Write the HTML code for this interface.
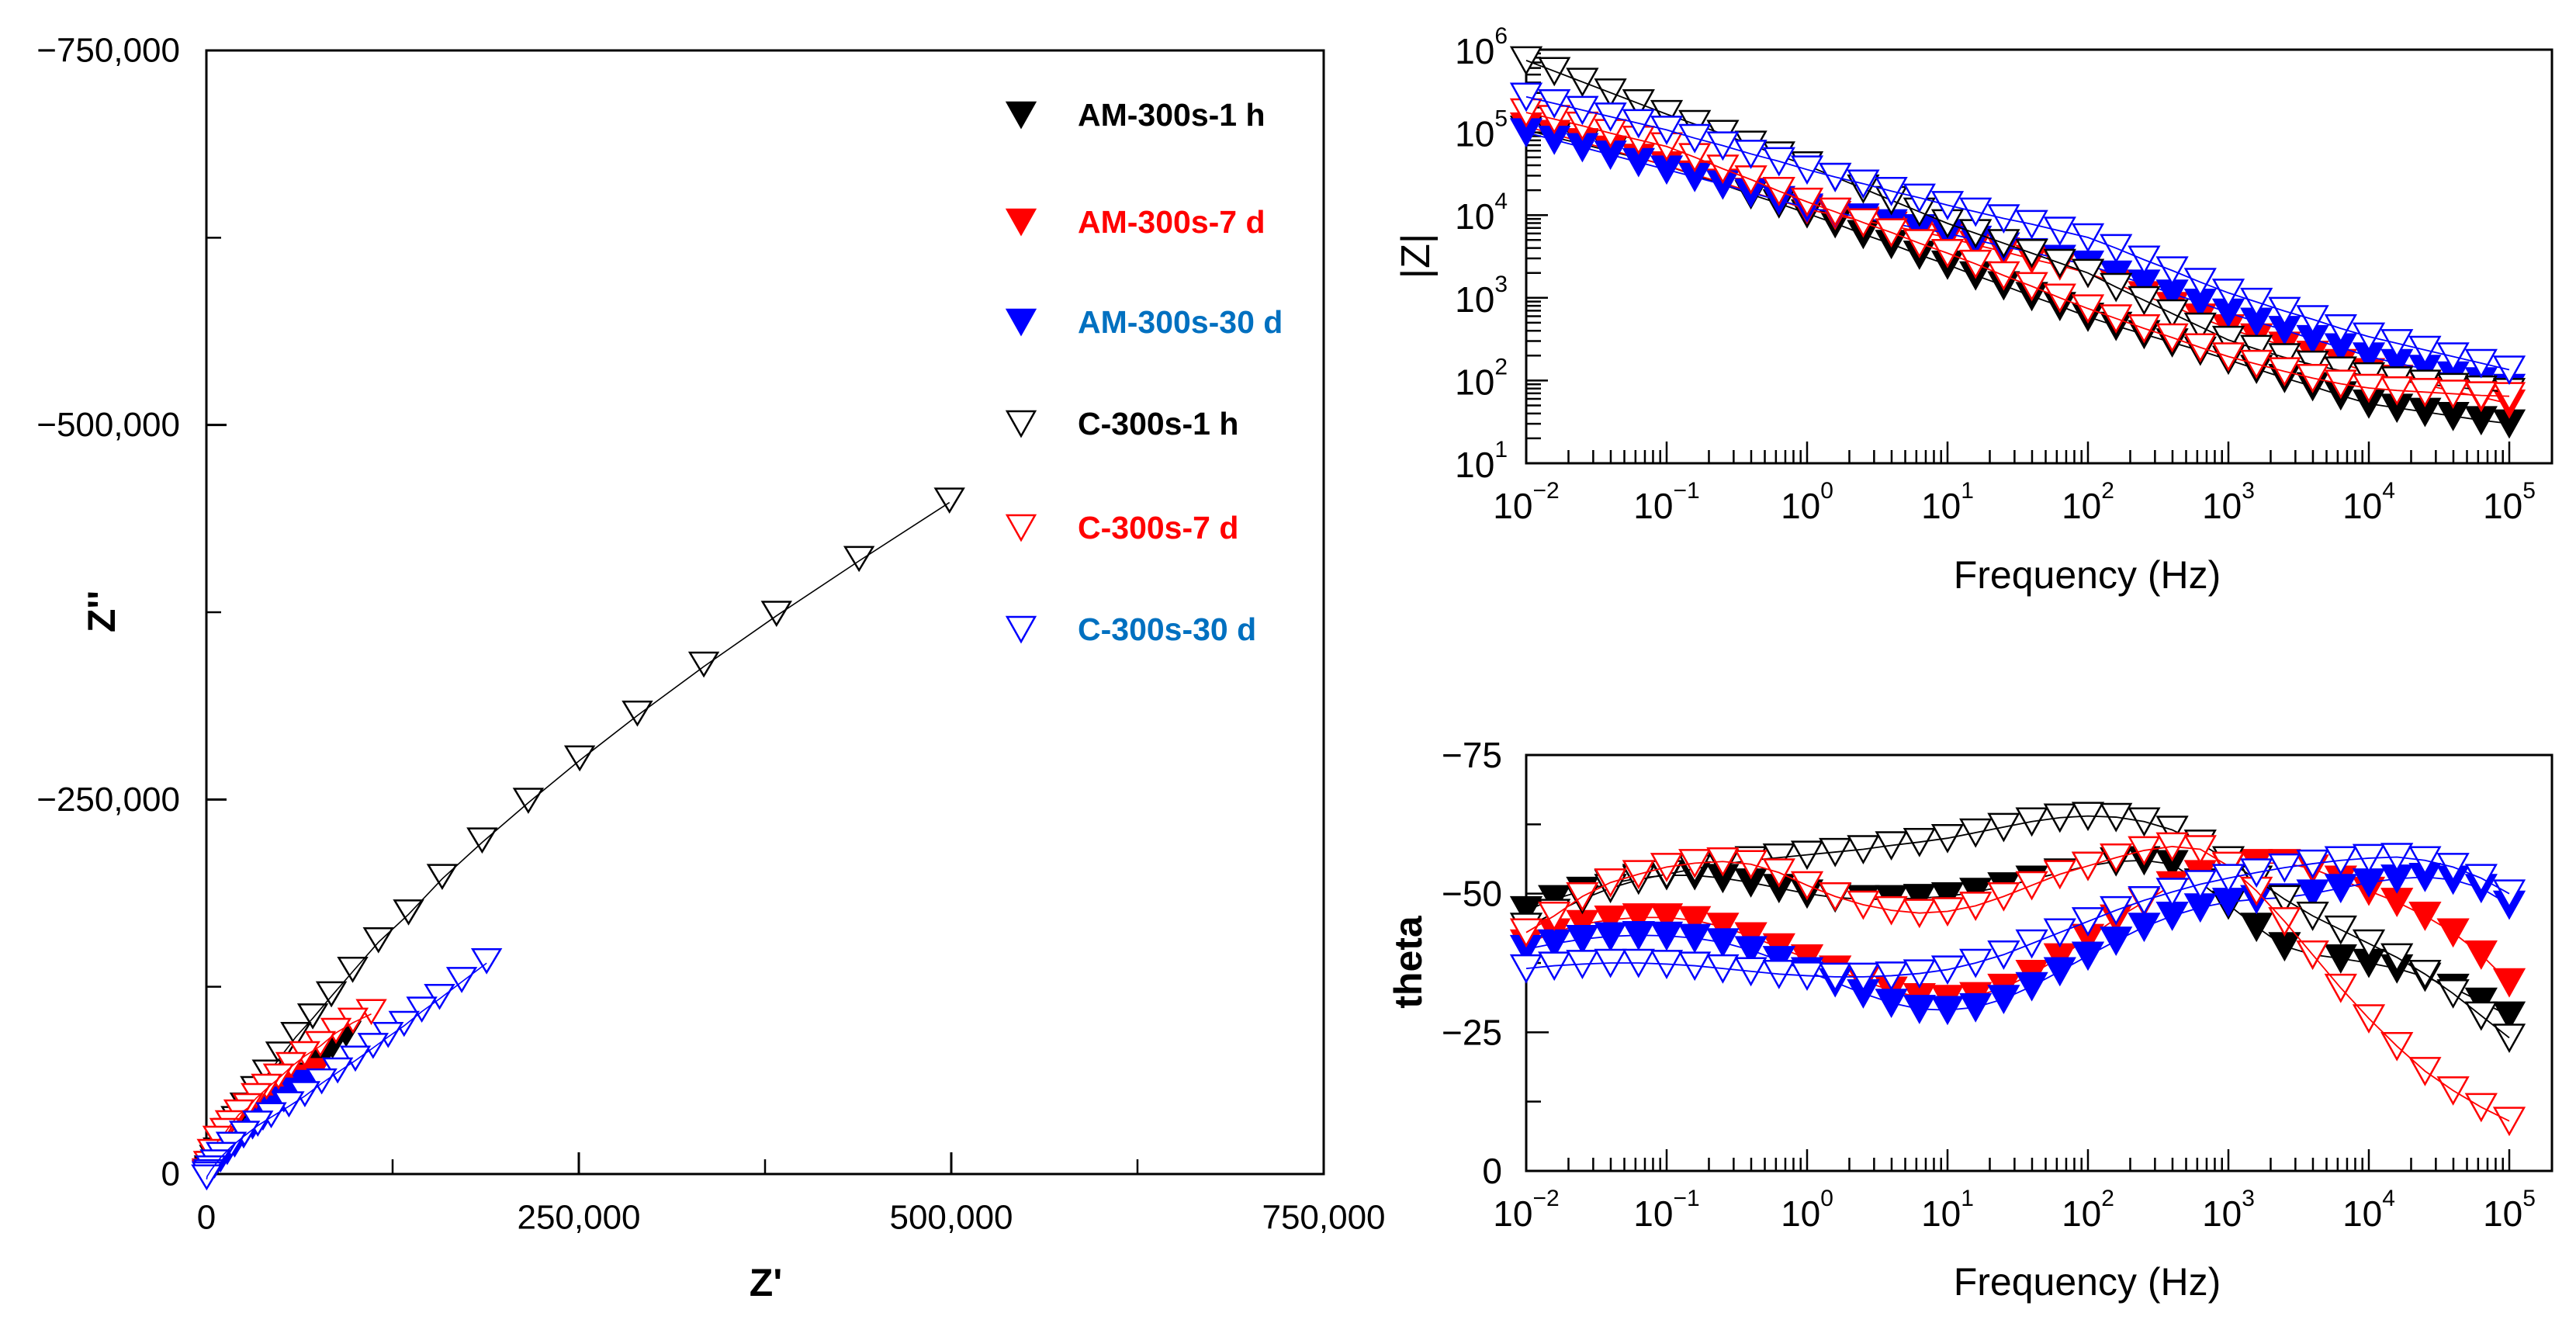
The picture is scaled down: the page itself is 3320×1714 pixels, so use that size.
<!DOCTYPE html>
<html><head><meta charset="utf-8">
<style>
html,body{margin:0;padding:0;background:#fff;}
svg{display:block;font-family:"Liberation Sans",Arial,sans-serif;}
</style></head>
<body>
<svg id="chart" width="3320" height="1714" viewBox="0 0 3320 1714" xmlns="http://www.w3.org/2000/svg"></svg>
<script>
// ---------- Nyquist data: [Z', Z''(magnitude)] ----------
const nyqAM1h = [[93800,93800],[84700,86000],[77700,77700],[71900,73000],[65000,66000],[58000,59000],[50000,52000],[42000,45000],[35000,38000],[28000,31000],[22000,25000],[16000,19000],[11000,13000],[7000,8000],[3500,4000],[1000,1500]];
const nyqAM7d = [[73000,69000],[65000,64700],[58000,60100],[51000,54000],[44000,47000],[37000,40000],[30000,34000],[24000,28000],[18000,22000],[13000,16000],[8500,11000],[5000,6500],[2000,3000],[500,1000]];
const nyqAM30d = [[66000,61100],[59000,56000],[52000,50000],[45000,44000],[38000,38000],[31000,32000],[25000,26000],[19000,20000],[14000,15000],[9500,10000],[5500,6000],[2500,3000],[800,1000]];
const nyqC1h = [[498800,449800],[438100,410800],[382700,374200],[333900,340300],[289300,307600],[250600,277700],[216100,249400],[185100,222900],[158300,198600],[135700,174900],[115500,156300],[98200,136600],[83900,120200],[71400,105500],[60100,93100],[50000,80000],[41000,68000],[33000,57000],[26000,46000],[20000,37000],[15000,29000],[11000,22000],[8000,16000],[5500,11000],[3500,7000],[2000,4000],[1000,2000]];
const nyqC7d = [[110700,108400],[98400,102600],[87000,95800],[76500,87000],[66000,80300],[56800,73000],[48400,65300],[40400,58500],[33500,52300],[27800,45600],[21900,41400],[16100,34200],[12500,29000],[7800,23800],[4000,15000],[1500,7000],[500,2000]];
const nyqC30d = [[188100,142300],[171400,129800],[156500,118500],[144600,110000],[132700,100500],[122000,93100],[111900,85800],[100000,77300],[88100,69400],[77400,62100],[66100,53600],[55400,46800],[43500,39500],[34500,33900],[25600,27100],[16700,19800],[10000,13000],[6000,8000],[3000,4000],[1500,1500],[500,0],[200,-2000]];
const nyqXTicks = [0,250000,500000,750000];
const nyqXTickLabels = ["0","250,000","500,000","750,000"];
const nyqYTicks = [0,250000,500000,750000];
const nyqYTickLabels = ["0","\u2212250,000","\u2212500,000","\u2212750,000"];

// ---------- Bode data: log10 frequency, 0.2-decade steps ----------
const logFreq = [-2,-1.8,-1.6,-1.4,-1.2,-1,-0.8,-0.6,-0.4,-0.2,0,0.2,0.4,0.6,0.8,1,1.2,1.4,1.6,1.8,2,2.2,2.4,2.6,2.8,3,3.2,3.4,3.6,3.8,4,4.2,4.4,4.6,4.8,5];
const zAM1h = [5.03,4.94,4.86,4.77,4.69,4.60,4.48,4.37,4.25,4.14,4.02,3.90,3.77,3.65,3.52,3.40,3.27,3.15,3.02,2.90,2.77,2.66,2.56,2.46,2.36,2.25,2.14,2.03,1.93,1.82,1.72,1.67,1.62,1.57,1.52,1.48];
const zAM7d = [5.07,4.98,4.88,4.79,4.69,4.60,4.49,4.39,4.28,4.18,4.07,4.00,3.93,3.87,3.80,3.73,3.64,3.56,3.47,3.39,3.30,3.17,3.03,2.90,2.76,2.63,2.52,2.42,2.31,2.21,2.10,2.02,1.95,1.87,1.80,1.72];
const zAM30d = [5.00,4.91,4.82,4.73,4.64,4.55,4.46,4.37,4.27,4.18,4.09,4.03,3.97,3.90,3.84,3.78,3.70,3.62,3.55,3.47,3.40,3.28,3.17,3.05,2.94,2.82,2.71,2.61,2.50,2.40,2.29,2.21,2.14,2.06,1.99,1.91];
const zC1h = [5.87,5.74,5.61,5.48,5.35,5.22,5.10,4.98,4.85,4.72,4.60,4.46,4.32,4.18,4.04,3.90,3.78,3.66,3.54,3.42,3.30,3.13,2.97,2.81,2.65,2.49,2.38,2.28,2.19,2.12,2.05,2.00,1.96,1.92,1.89,1.86];
const zC7d = [5.24,5.16,5.08,4.99,4.91,4.83,4.70,4.56,4.43,4.29,4.16,4.04,3.91,3.79,3.66,3.54,3.41,3.27,3.14,3.00,2.87,2.75,2.63,2.52,2.40,2.29,2.20,2.11,2.03,1.96,1.91,1.88,1.86,1.84,1.82,1.81];
const zC30d = [5.43,5.35,5.27,5.19,5.11,5.03,4.93,4.84,4.74,4.65,4.55,4.46,4.38,4.29,4.21,4.12,4.04,3.96,3.89,3.81,3.73,3.60,3.46,3.33,3.19,3.06,2.95,2.84,2.74,2.63,2.53,2.45,2.37,2.29,2.21,2.13];
const thAM1h = [47,49,50.5,51.8,52.8,53.3,53.3,52.8,52,51,50,49.3,49,49,49.2,49.5,50.3,51.3,52.5,53.8,55,55.8,56,55.3,52,48,44,40.5,39,38.3,37.5,36.5,35,33,30.5,28];
const thAM7d = [41,43,44.5,45.3,45.7,45.7,45.2,44,42.3,40.3,38.3,36.3,34.3,32.5,31.3,31,31.5,33,35.5,38.5,42,45.5,48.5,51.5,53.5,54.8,55.5,55.5,54.5,52.5,50.5,48.5,46,43,39,34];
const thAM30d = [40,41,41.8,42.3,42.5,42.4,42,41.2,39.8,38,36,34,32,30.3,29.2,29,29.5,31,33.3,36,38.8,41.5,44,46,47.5,48.5,49,49.3,50,51,52,52.7,53,52.5,51,48];
const thC1h = [44,46.5,49,51,52.5,53.5,54.5,55.3,56,56.5,57,57.5,58,58.7,59.3,60,61,62,63,63.7,64,63.8,63,61.5,59,56,52.5,49,46,43.5,41,38.5,35.5,32,28,24];
const thC7d = [43,46,49.5,52,53.5,54.8,55.5,55.8,55.3,53.8,51.5,49.5,48,47,46.5,46.8,47.8,49.5,51.5,53.5,55,56.5,57.8,58.5,58,55,50.5,45,39,33,27.5,22.5,18,14.5,11.5,9];
const thC30d = [36.5,37,37.3,37.5,37.5,37.3,37,36.5,36,35.5,35.2,35,35,35.2,35.6,36.3,37.5,39,41,43,45,47,48.8,50.3,51.7,52.8,53.8,54.7,55.4,56,56.4,56.6,56,54.8,52.8,50];
const freqTickExps = [-2,-1,0,1,2,3,4,5];
const zTickExps = [1,2,3,4,5,6];
const thetaTicks = [0,25,50,75];
const thetaTickLabels = ["0","\u221225","\u221250","\u221275"];

const legendLabels = ["AM-300s-1 h","AM-300s-7 d","AM-300s-30 d","C-300s-1 h","C-300s-7 d","C-300s-30 d"];

const NS = "http://www.w3.org/2000/svg";
const svg = document.getElementById("chart");
const N = {l:266, r:1706, t:65, b:1513, max:750000};
const B = {l:1967, r:3289, dec:181};
const T1 = {t:64, b:597};
const T2 = {t:973, b:1509};
function nx(v){ return N.l + v / N.max * (N.r - N.l); }
function ny(v){ return N.b - v / N.max * (N.b - N.t); }
function bx(lf){ return B.l + (lf + 2) * B.dec; }
function zy(l){ return T1.t + (6 - l) * (T1.b - T1.t) / 5; }
function ty(t){ return T2.b - t / 75 * (T2.b - T2.t); }

function mk(tag, attrs, parent){
  const e = document.createElementNS(NS, tag);
  for (const k in attrs) e.setAttribute(k, attrs[k]);
  (parent || svg).appendChild(e);
  return e;
}
function line(x1,y1,x2,y2,w,p){ return mk("line",{x1:x1,y1:y1,x2:x2,y2:y2,stroke:"#000","stroke-width":w},p); }
function tri(x,y,w,h,color,filled,p){
  const pts = (x-w/2)+","+(y-h/2)+" "+(x+w/2)+","+(y-h/2)+" "+x+","+(y+h/2);
  return mk("polygon",{points:pts,fill:filled?color:"#fff",stroke:color,"stroke-width":2.5},p);
}
function txt(x,y,s,size,anchor,p,extra){
  const a = {x:x,y:y,"font-size":size,"text-anchor":anchor||"middle","dominant-baseline":"central",fill:"#000"};
  if (extra) for (const k in extra) a[k]=extra[k];
  const e = mk("text",a,p);
  e.textContent = s;
  return e;
}
function powLabel(x,y,exp,anchor,p){
  const e = mk("text",{x:x,y:y,"font-size":46,"text-anchor":anchor,"dominant-baseline":"central",fill:"#000"},p);
  const a = document.createElementNS(NS,"tspan"); a.textContent="10"; e.appendChild(a);
  const b = document.createElementNS(NS,"tspan"); b.setAttribute("dy","-20"); b.setAttribute("font-size","30");
  b.textContent = exp < 0 ? "\u2212"+(-exp) : String(exp); e.appendChild(b);
  return e;
}

const colors = ["#000","#ff0000","#0000ff","#000","#ff0000","#0000ff"];
const textColors = ["#000","#ff0000","#0070c0","#000","#ff0000","#0070c0"];
const filledFlags = [true,true,true,false,false,false];
const keys = ["am-1h","am-7d","am-30d","c-1h","c-7d","c-30d"];

// ================= Nyquist =================
const gN = mk("g",{});


const frameN = mk("rect",{x:N.l,y:N.t,width:N.r-N.l,height:N.b-N.t,fill:"none",stroke:"#000","stroke-width":3},gN);


for (let i=0;i<nyqYTicks.length;i++){
  const y = ny(nyqYTicks[i]);
  if (i>0 && i<nyqYTicks.length-1){ const t=line(N.l,y,N.l+26,y,3,gN);   }
  const lb = txt(232,y,nyqYTickLabels[i],44,"end",gN);
  
  
}
for (let i=0;i<nyqYTicks.length-1;i++){
  const y = ny((nyqYTicks[i]+nyqYTicks[i+1])/2);
  const t=line(N.l,y,N.l+19,y,2.5,gN);
  
  
}
for (let i=0;i<nyqXTicks.length;i++){
  const x = nx(nyqXTicks[i]);
  if (i>0 && i<nyqXTicks.length-1){ const t=line(x,N.b,x,N.b-28,3,gN);   }
  const lb = txt(x,1569,nyqXTickLabels[i],44,"middle",gN);
  
  
}
for (let i=0;i<nyqXTicks.length-1;i++){
  const x = nx((nyqXTicks[i]+nyqXTicks[i+1])/2);
  const t=line(x,N.b,x,N.b-19,2.5,gN);
  
  
}
const xtN = txt(987,1653,"Z'",50,"middle",gN,{"font-weight":"bold"});


const ytN = txt(131,788,"Z''",50,"middle",gN,{"font-weight":"bold",transform:"rotate(-90 131 788)"});



const nyqSeries = [nyqAM1h,nyqAM7d,nyqAM30d,nyqC1h,nyqC7d,nyqC30d];
nyqSeries.forEach((data,si)=>{
  const g = mk("g",{},gN);
  
  
  data.forEach(d=>{
    const m = tri(nx(d[0]),ny(d[1]),36,30,colors[si],filledFlags[si],g);
    
    
  });
  const pl = mk("polyline",{points:data.map(d=>nx(d[0])+","+(ny(d[1])+3)).join(" "),fill:"none",stroke:colors[si],"stroke-width":1.6},g);
  
  
});

const gL = mk("g",{});


const legY = [148,286,415,546,680,811];
legendLabels.forEach((s,i)=>{
  const g = mk("g",{},gL);
  
  
  const m = tri(1316,legY[i],36,32,colors[i],filledFlags[i],g);
  
  
  const t = txt(1389,legY[i],s,41,"start",g,{"font-weight":"bold",fill:textColors[i]});
  
  
});

function bodeFrame(top,bottom,name){
  const g = mk("g",{});
  
  
  const fr = mk("rect",{x:B.l,y:top,width:B.r-B.l,height:bottom-top,fill:"none",stroke:"#000","stroke-width":3},g);
  
  
  freqTickExps.forEach(e=>{
    const x = bx(e);
    if (e>-2){ const t=line(x,bottom,x,bottom-28,2.5,g);   }
    if (e<5){ for(let k=2;k<=9;k++){ const xx=bx(e+Math.log10(k)); const t=line(xx,bottom,xx,bottom-17,2.5,g);   } }
    const lb = powLabel(x,bottom+55,e,"middle",g);
    
    
  });
  return g;
}
function drawSeries(g,xs,ys,si,yf,prefix){
  const sg = mk("g",{},g);
  
  
  for (let i=0;i<xs.length;i++){
    const m = tri(bx(xs[i]),yf(ys[i]),38,34,colors[si],filledFlags[si],sg);
    
    
  }
  const pl = mk("polyline",{points:xs.map((x,i)=>bx(x)+","+yf(ys[i])).join(" "),fill:"none",stroke:colors[si],"stroke-width":1.8},sg);
  
  
}

const gZ = bodeFrame(T1.t,T1.b,"impedance-plot");
zTickExps.forEach(e=>{
  const y = zy(e);
  if (e>1 && e<6){ const t=line(B.l,y,B.l+28,y,2.5,gZ);   }
  if (e<6){ for(let k=2;k<=9;k++){ const yy=zy(e+Math.log10(k)); const t=line(B.l,yy,B.l+19,yy,2.5,gZ);   } }
  const lb = powLabel(1943,y+2,e,"end",gZ);
  
  
});
const zSeries = [zAM1h,zAM7d,zAM30d,zC1h,zC7d,zC30d];
zSeries.forEach((d,si)=>drawSeries(gZ,logFreq,d,si,zy,"impedance"));
const ztx = txt(2690,741,"Frequency (Hz)",50,"middle",gZ);


const zty = txt(1825,330,"|Z|",52,"middle",gZ,{transform:"rotate(-90 1825 330)"});



const gT = bodeFrame(T2.t,T2.b,"phase-plot");
thetaTicks.forEach((v,i)=>{
  const y = ty(v);
  if (i>0 && i<thetaTicks.length-1){ const t=line(B.l,y,B.l+29,y,2.5,gT);   }
  const lb = txt(1936,y,thetaTickLabels[i],46,"end",gT);
  
  
});
for (let i=0;i<thetaTicks.length-1;i++){
  const y = ty((thetaTicks[i]+thetaTicks[i+1])/2);
  const t=line(B.l,y,B.l+19,y,2.5,gT);
  
  
}
const thSeries = [thAM1h,thAM7d,thAM30d,thC1h,thC7d,thC30d];
thSeries.forEach((d,si)=>drawSeries(gT,logFreq,d,si,ty,"phase"));
const ttx = txt(2690,1652,"Frequency (Hz)",50,"middle",gT);


const tty = txt(1815,1240,"theta",50,"middle",gT,{"font-weight":"bold",transform:"rotate(-90 1815 1240)"});


</script>
</body></html>
